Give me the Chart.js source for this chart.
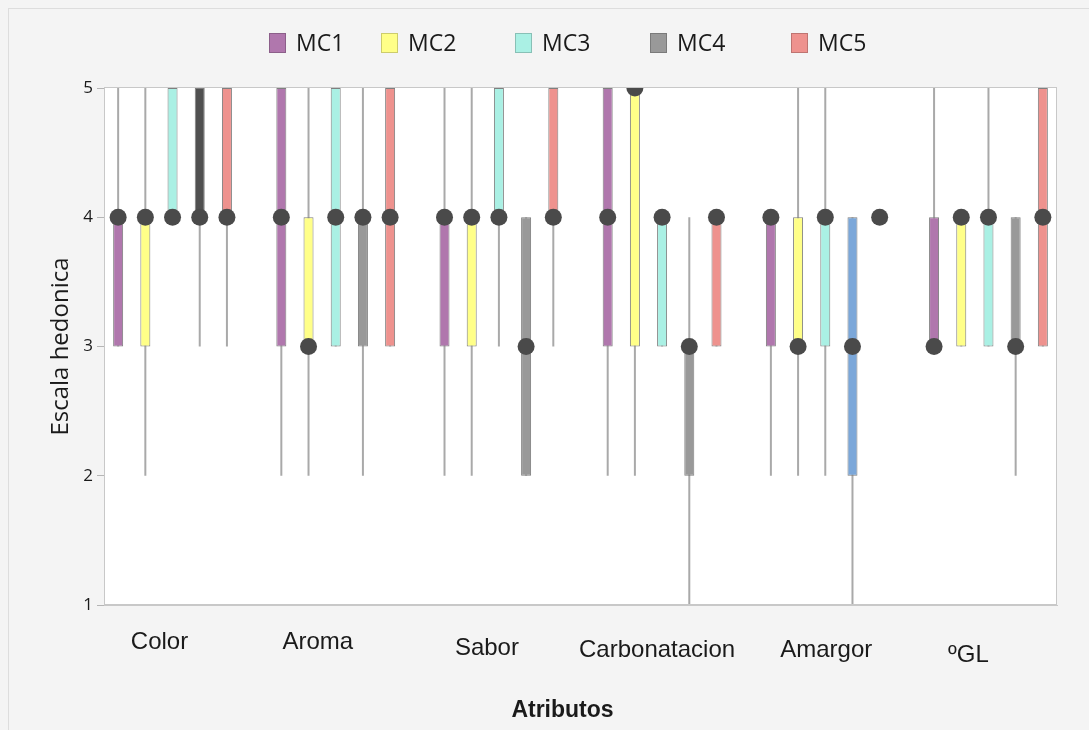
<!DOCTYPE html>
<html>
<head>
<meta charset="utf-8">
<script src="https://cdn.jsdelivr.net/npm/chart.js@4.4.1/dist/chart.umd.min.js"></script>
<style>
  html, body { margin: 0; padding: 0; background: #f4f4f4; }
  canvas { display: block; }
</style>
</head>
<body>
<canvas id="boxChart" width="1089" height="730"></canvas>
<script>
const categories = ["Color", "Aroma", "Sabor", "Carbonatacion", "Amargor", "ºGL"];
const seriesNames = ["MC1", "MC2", "MC3", "MC4", "MC5"];
const yTicks = [1, 2, 3, 4, 5];

// rows: MC1..MC5, columns follow categories
const whiskerLow = [
  [3, 2, 2, 2, 2, 3],
  [2, 2, 2, 2, 2, 3],
  [4, 3, 3, 3, 2, 3],
  [3, 2, 2, 1, 1, 2],
  [3, 3, 3, 3, 4, 3]
];
const boxLow = [
  [3, 3, 3, 3, 3, 3],
  [3, 3, 3, 3, 3, 3],
  [4, 3, 4, 3, 3, 3],
  [4, 3, 2, 2, 2, 3],
  [4, 3, 4, 3, 4, 3]
];
const medians = [
  [4, 4, 4, 4, 4, 3],
  [4, 3, 4, 5, 3, 4],
  [4, 4, 4, 4, 4, 4],
  [4, 4, 3, 3, 3, 3],
  [4, 4, 4, 4, 4, 4]
];
const boxHigh = [
  [4, 5, 4, 5, 4, 4],
  [4, 4, 4, 5, 4, 4],
  [5, 5, 5, 4, 4, 4],
  [5, 4, 4, 3, 4, 4],
  [5, 5, 5, 4, 4, 5]
];
const whiskerHigh = [
  [5, 5, 5, 5, 4, 5],
  [5, 5, 5, 5, 5, 4],
  [5, 5, 5, 4, 5, 5],
  [5, 5, 4, 4, 4, 4],
  [5, 5, 5, 4, 4, 5]
];

const seriesColors = ["#b077ad", "#ffff88", "#aaf0e4", "#999999", "#ee928e"];
// MC4 boxes are shaded differently in two categories
const mc4Fill = ["#505050", "#999999", "#999999", "#999999", "#7ba7d9", "#999999"];

const xPos = (s, i) => i + 1 + (s - 2) / 6;

const datasets = [];
seriesNames.forEach((name, s) => {
  datasets.push({
    type: "bar",
    label: "whisker " + name,
    data: categories.map((c, i) => ({ x: xPos(s, i), y: [whiskerLow[s][i], whiskerHigh[s][i]] })),
    backgroundColor: "#a9a9a9",
    borderWidth: 0,
    grouped: false,
    maxBarThickness: 2,
    order: 3
  });
  datasets.push({
    type: "bar",
    label: name,
    data: categories.map((c, i) => ({ x: xPos(s, i), y: [boxLow[s][i], boxHigh[s][i]] })),
    backgroundColor: categories.map((c, i) => (s === 3 ? mc4Fill[i] : seriesColors[s])),
    borderColor: "#7f7f7f",
    borderWidth: 1,
    borderSkipped: false,
    grouped: false,
    maxBarThickness: 10,
    order: 2
  });
  datasets.push({
    type: "scatter",
    label: "median " + name,
    data: categories.map((c, i) => ({ x: xPos(s, i), y: medians[s][i] })),
    pointRadius: 8.5,
    pointBackgroundColor: "#4a4a4a",
    pointBorderWidth: 0,
    order: 1
  });
});

// layout constants for the hand placed texts
const legendX = [269, 381, 515, 650, 791];
const labelDx = [-13, -18, -12, -5, 1, -20];
const labelDy = [44, 44, 50, 52, 52, 57];

const decorPlugin = {
  id: "decor",
  beforeDraw(chart) {
    const { ctx, chartArea: a } = chart;
    ctx.save();
    ctx.fillStyle = "#f4f4f4";
    ctx.fillRect(0, 0, chart.width, chart.height);
    ctx.strokeStyle = "#dddddd";
    ctx.lineWidth = 1;
    ctx.strokeRect(8.5, 8.5, chart.width + 20, chart.height + 20);
    ctx.fillStyle = "#ffffff";
    ctx.fillRect(a.left, a.top, a.right - a.left, a.bottom - a.top);
    ctx.restore();
  },
  afterDraw(chart) {
    const { ctx, chartArea: a, scales } = chart;
    ctx.save();
    ctx.strokeStyle = "#c8c8c8";
    ctx.lineWidth = 1;
    ctx.strokeRect(a.left + 0.5, a.top - 0.5, a.right - a.left - 1, a.bottom - a.top);

    // legend
    ctx.font = "23px 'Open Sans'";
    ctx.textBaseline = "middle";
    ctx.textAlign = "left";
    seriesNames.forEach((name, s) => {
      const x = legendX[s];
      ctx.fillStyle = seriesColors[s];
      ctx.fillRect(x, 33, 17, 20);
      ctx.strokeStyle = "rgba(0,0,0,0.2)";
      ctx.strokeRect(x + 0.5, 33.5, 16, 19);
      ctx.fillStyle = "#1a1a1a";
      ctx.fillText(name, x + 27, 44);
    });

    // category labels
    ctx.font = "24px 'Liberation Sans'";
    ctx.textAlign = "center";
    ctx.textBaseline = "alphabetic";
    ctx.fillStyle = "#1a1a1a";
    categories.forEach((c, i) => {
      ctx.fillText(c, scales.x.getPixelForValue(i + 1) + labelDx[i], a.bottom + labelDy[i]);
    });

    // x axis title
    ctx.font = "bold 23px 'Liberation Sans'";
    ctx.fillText("Atributos", (a.left + a.right) / 2 - 18, 717);
    ctx.restore();
  }
};

new Chart(document.getElementById("boxChart"), {
  type: "bar",
  data: { datasets },
  options: {
    responsive: false,
    animation: false,
    events: [],
    layout: { padding: { left: 47, right: 32, top: 88, bottom: 0 } },
    plugins: { legend: { display: false }, tooltip: { enabled: false } },
    scales: {
      x: {
        type: "linear",
        min: 0.58,
        max: 6.42,
        offset: false,
        grid: { display: false },
        ticks: { display: false },
        border: { color: "#c8c8c8" },
        afterFit: (s) => { s.height = 125; }
      },
      y: {
        type: "linear",
        min: 1,
        max: 5,
        afterBuildTicks: (s) => { s.ticks = yTicks.map((v) => ({ value: v })); },
        ticks: { font: { family: "Open Sans", size: 17 }, color: "#1a1a1a", padding: 4 },
        grid: { drawOnChartArea: false, tickLength: 7, color: "#b5b5b5" },
        border: { color: "#c8c8c8" },
        title: {
          display: true,
          text: "Escala hedonica",
          font: { family: "Open Sans", size: 24 },
          color: "#1a1a1a",
          padding: { top: 0, bottom: 0 }
        },
        afterFit: (s) => { s.width = 57; }
      }
    }
  },
  plugins: [decorPlugin]
});
</script>
</body>
</html>
